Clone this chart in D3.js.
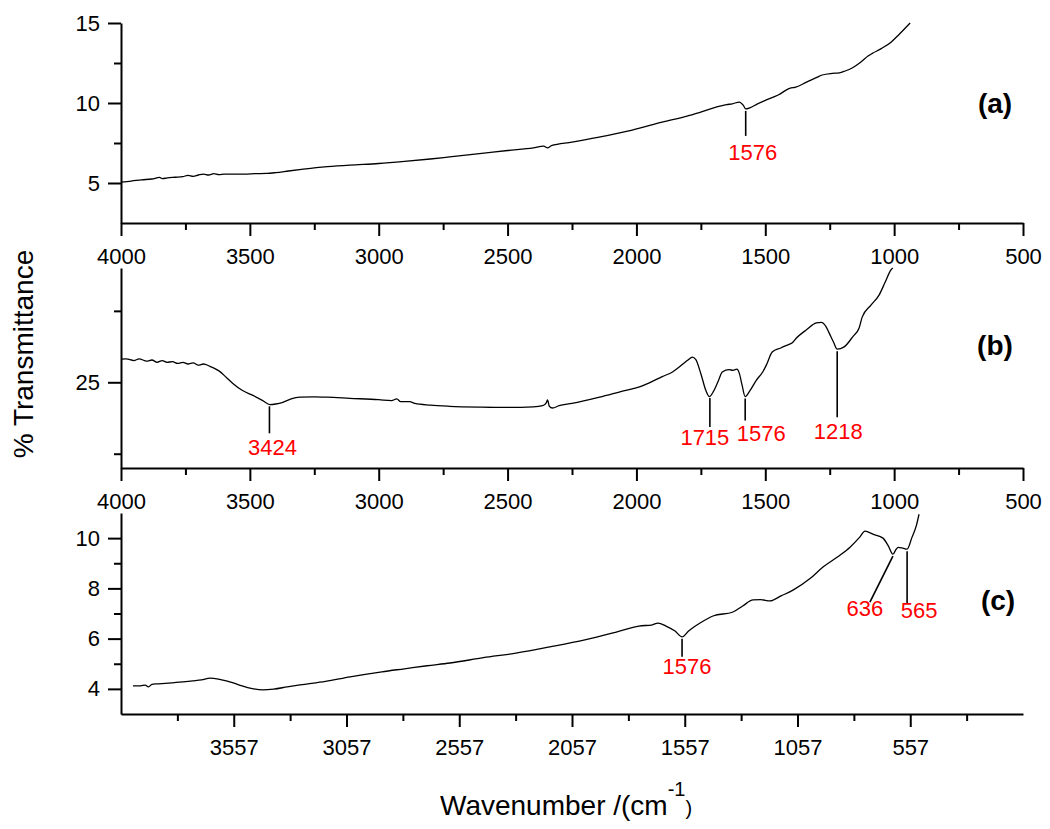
<!DOCTYPE html>
<html><head><meta charset="utf-8">
<script src="https://cdn.jsdelivr.net/npm/d3@7"></script>
<style>
body{margin:0;background:#fff}
svg{display:block}
text{font-family:"Liberation Sans",Arial,Helvetica,sans-serif}
</style>
</head><body>
<svg id="chart" width="1050" height="829"></svg>
<script>
// ---------- DATA ----------
const xTicksAB = [4000,3500,3000,2500,2000,1500,1000,500];
const xMinorAB = [3750,3250,2750,2250,1750,1250,750];
const xTicksC  = [3557,3057,2557,2057,1557,1057,557];
const xMinorC  = [3807,3307,2807,2307,1807,1307,807,307];
const yTicksA = [5,10,15];   const yMinorA = [7.5,12.5];
const yTicksB = [25];        const yMinorB = [12.5,37.5];
const yTicksC = [4,6,8,10];  const yMinorC = [5,7,9];

// spectrum (a): [wavenumber, %T]
const spectrumA = [
 [4000,5.06],[3960,5.12],[3920,5.2],[3880,5.25],[3850,5.35],[3840,5.27],[3820,5.32],[3790,5.36],
 [3760,5.4],[3740,5.48],[3720,5.42],[3700,5.5],[3680,5.56],[3660,5.5],[3640,5.58],[3620,5.52],
 [3600,5.55],[3560,5.56],[3520,5.55],[3480,5.58],[3434,5.6],[3400,5.65],[3350,5.75],[3300,5.85],
 [3250,5.95],[3200,6.02],[3112,6.12],[3000,6.22],[2900,6.35],[2800,6.5],[2725,6.63],[2600,6.85],
 [2500,7.03],[2400,7.2],[2360,7.3],[2345,7.2],[2330,7.33],[2250,7.55],[2150,7.85],[2016,8.31],
 [1900,8.8],[1800,9.2],[1756,9.4],[1700,9.7],[1650,9.9],[1628,9.95],[1601,10.06],[1585,9.85],
 [1576,9.63],[1560,9.7],[1530,9.95],[1496,10.19],[1450,10.5],[1400,10.95],[1385,10.98],[1340,11.3],
 [1300,11.6],[1279,11.75],[1240,11.85],[1213,11.88],[1190,12.0],[1163,12.19],[1130,12.55],[1100,12.95],
 [1085,13.1],[1050,13.4],[1012,13.8],[980,14.3],[938,15.0]
];
// spectrum (b)
const spectrumB = [
 [4000,29.05],[3980,29.1],[3950,28.8],[3930,29.1],[3900,28.7],[3880,28.9],[3860,28.5],[3840,28.8],
 [3822,28.5],[3800,28.6],[3780,28.3],[3760,28.5],[3740,28.2],[3720,28.4],[3700,28.0],[3680,28.2],
 [3655,27.8],[3620,27.0],[3590,25.8],[3566,24.8],[3530,23.6],[3488,22.7],[3450,21.8],[3422,21.1],
 [3400,21.2],[3372,21.5],[3340,22.1],[3306,22.4],[3250,22.45],[3200,22.4],[3112,22.2],[3000,21.95],
 [2950,21.8],[2930,22.1],[2915,21.6],[2880,21.6],[2860,21.3],[2800,21.0],[2725,20.8],[2600,20.65],
 [2504,20.6],[2400,20.7],[2364,20.9],[2350,21.4],[2345,21.9],[2338,20.8],[2326,20.5],[2300,20.9],
 [2250,21.3],[2143,22.4],[2050,23.5],[1988,24.2],[1950,24.9],[1900,26.0],[1860,26.8],[1822,28.1],
 [1800,28.9],[1783,29.4],[1770,29.0],[1750,26.5],[1730,23.5],[1717,22.5],[1700,23.5],[1680,25.5],
 [1667,26.8],[1640,27.2],[1625,27.1],[1610,27.3],[1601,26.6],[1590,24.5],[1578,22.5],[1560,23.5],
 [1535,25.35],[1510,26.8],[1496,28.0],[1473,30.3],[1440,31.0],[1410,31.6],[1395,31.9],[1380,32.7],
 [1340,34.2],[1302,35.4],[1283,35.5],[1265,34.8],[1252,33.6],[1235,32.0],[1221,30.8],[1194,31.2],
 [1160,33.0],[1136,34.5],[1124,36.4],[1090,38.5],[1058,40.3],[1035,42.5],[1012,44.7],[1005,45]
];
// spectrum (c)
const spectrumC = [
 [4004,4.12],[3970,4.12],[3950,4.15],[3935,4.08],[3920,4.18],[3897,4.2],[3860,4.22],[3820,4.25],
 [3782,4.28],[3740,4.32],[3700,4.36],[3662,4.43],[3620,4.38],[3590,4.32],[3560,4.24],[3520,4.12],
 [3480,4.02],[3427,3.96],[3380,3.99],[3320,4.08],[3263,4.16],[3150,4.3],[3041,4.48],[2900,4.68],
 [2800,4.8],[2700,4.92],[2598,5.03],[2450,5.24],[2300,5.43],[2155,5.67],[2000,5.95],[1857,6.27],
 [1760,6.5],[1700,6.55],[1676,6.62],[1640,6.5],[1600,6.3],[1569,6.07],[1540,6.3],[1510,6.5],
 [1489,6.62],[1432,6.9],[1343,7.06],[1300,7.3],[1254,7.54],[1220,7.55],[1179,7.5],[1130,7.7],
 [1077,7.93],[1000,8.4],[944,8.85],[880,9.25],[824,9.64],[780,10.05],[758,10.28],[720,10.15],
 [678,10.0],[655,9.7],[634,9.36],[620,9.55],[611,9.63],[590,9.6],[571,9.56],[549,10.04],
 [530,10.5],[518,10.95]
];
const peaksA = [[1576,"1576"]];
const peaksB = [[3424,"3424"],[1715,"1715"],[1578,"1576"],[1221,"1218"]];
const peaksC = [[1569,"1576"],[634,"636"],[571,"565"]];

// ---------- LAYOUT ----------
const W = 1050, H = 829, left = 121, right = 1023;
// annotation layout: line length (px), label dx, label baseline offset from line end, line dx for slanted
const annA = [{len:25, ldx:7, lb:24}];
const annB = [{len:27, ldx:3, lb:22},{len:29, ldx:-5, lb:18},{len:22, ldx:16, lb:20},{len:66, ldx:1, lb:22}];
const annC = [{len:18, ldx:5, lb:17},{len:46, ddx:-23, ldx:-5, lb:14},{len:52, ldx:12, lb:15}];

const panels = [
 {data:spectrumA, xd:[4000,500], yd:[2.5,15], top:23,  bottom:223, xt:xTicksAB, xm:xMinorAB, yt:yTicksA, ym:yMinorA, peaks:peaksA, ann:annA, tag:"(a)", tx:995, ty:113},
 {data:spectrumB, xd:[4000,500], yd:[10,45],  top:268, bottom:468, xt:xTicksAB, xm:xMinorAB, yt:yTicksB, ym:yMinorB, peaks:peaksB, ann:annB, tag:"(b)", tx:995, ty:355},
 {data:spectrumC, xd:[4057,57],  yd:[3,11],   top:513, bottom:714, xt:xTicksC,  xm:xMinorC,  yt:yTicksC, ym:yMinorC, peaks:peaksC, ann:annC, tag:"(c)", tx:998, ty:610}
];

const svg = d3.select("#chart");
svg.append("rect").attr("width",W).attr("height",H).attr("fill","#fff");

function styleAxis(g){
  g.attr("font-family",null).attr("font-size",null);
  g.selectAll(".domain").attr("stroke","#000").attr("stroke-width",2);
  g.selectAll(".tick line").attr("stroke","#000").attr("stroke-width",2);
  g.selectAll(".tick text").attr("fill","#000").style("font-size","22px");
}

panels.forEach(p => {
  const x = d3.scaleLinear().domain(p.xd).range([left,right]);
  const y = d3.scaleLinear().domain(p.yd).range([p.bottom,p.top]);
  const g = svg.append("g");

  // minor ticks
  g.append("g").attr("transform",`translate(0,${p.bottom})`)
    .call(d3.axisBottom(x).tickValues(p.xm).tickSize(7).tickSizeOuter(0).tickFormat(""))
    .call(s=>{s.select(".domain").remove(); styleAxis(s);});
  g.append("g").attr("transform",`translate(${left},0)`)
    .call(d3.axisLeft(y).tickValues(p.ym).tickSize(7).tickSizeOuter(0).tickFormat(""))
    .call(s=>{s.select(".domain").remove(); styleAxis(s);});
  // major
  g.append("g").attr("transform",`translate(0,${p.bottom})`)
    .call(d3.axisBottom(x).tickValues(p.xt).tickSize(13).tickSizeOuter(0).tickPadding(12).tickFormat(d3.format("d")))
    .call(styleAxis);
  g.append("g").attr("transform",`translate(${left},0)`)
    .call(d3.axisLeft(y).tickValues(p.yt).tickSize(13).tickSizeOuter(0).tickPadding(8).tickFormat(d3.format("d")))
    .call(styleAxis);

  // spectrum
  const line = d3.line().x(d=>x(d[0])).y(d=>y(d[1])).curve(d3.curveMonotoneX);
  g.append("path").datum(p.data).attr("d",line)
    .attr("fill","none").attr("stroke","#000").attr("stroke-width",1.3);

  // interpolation of curve value at a wavenumber
  const valAt = w => {
    const d = p.data;
    for (let i=0;i<d.length-1;i++){
      if (w<=d[i][0] && w>=d[i+1][0]){
        const t=(d[i][0]-w)/(d[i][0]-d[i+1][0]);
        return d[i][1]+t*(d[i+1][1]-d[i][1]);
      }
    }
    return d[d.length-1][1];
  };

  // peak annotations
  p.peaks.forEach((pk,i) => {
    const a = p.ann[i];
    const px = x(pk[0]), py = y(valAt(pk[0])) + 2;
    const ex = px + (a.ddx||0), ey = py + a.len;
    g.append("line").attr("x1",px).attr("y1",py).attr("x2",ex).attr("y2",ey)
      .attr("stroke","#000").attr("stroke-width",1.6);
    g.append("text").attr("x",ex + a.ldx).attr("y",ey + a.lb)
      .attr("text-anchor","middle").attr("fill","#f00").style("font-size","22px").text(pk[1]);
  });

  // panel tag
  g.append("text").attr("x",p.tx).attr("y",p.ty).attr("text-anchor","middle")
    .style("font-size","28px").style("font-weight","bold").attr("fill","#000").text(p.tag);
});

// axis titles
svg.append("text").attr("transform","translate(33,354) rotate(-90)")
  .attr("text-anchor","middle").style("font-size","28px").attr("fill","#000").text("% Transmittance");

const xt = svg.append("text").attr("x",440).attr("y",815).style("font-size","28px").attr("fill","#000");
xt.append("tspan").text("Wavenumber /(cm");
xt.append("tspan").attr("dy",-19).style("font-size","20px").text("-1");
xt.append("tspan").attr("dy",19).style("font-size","20px").text(")");
</script>
</body></html>
